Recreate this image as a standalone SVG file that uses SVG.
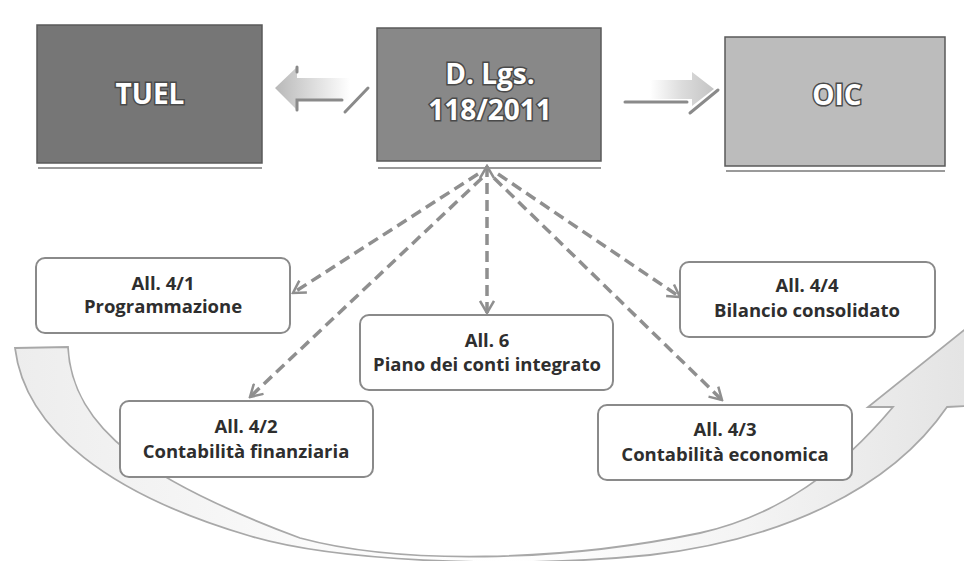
<svg xmlns="http://www.w3.org/2000/svg" width="964" height="561" viewBox="0 0 964 561">
<defs>
<style>
.bigbox{stroke:#5a5a5a;stroke-width:1.5}
.shadow{stroke:#9a9a9a;stroke-width:2;fill:none}
.big{font-family:"Open Sans","Noto Sans",sans-serif;font-weight:bold;font-size:28px;fill:#ffffff;stroke:#4a4a4a;stroke-width:3;paint-order:stroke;text-anchor:middle}
.box{fill:#ffffff;stroke:#8a8a8a;stroke-width:2}
.lbl{font-family:"Open Sans","Noto Sans",sans-serif;font-weight:bold;font-size:18.5px;fill:#2e2e2e;text-anchor:middle}
.dash{stroke:#8f8f8f;stroke-width:3.5;stroke-dasharray:11 6;fill:none}
.frag{stroke:#8a8a8a;stroke-width:3;fill:none;stroke-linecap:round}
</style>
<marker id="ah" viewBox="0 0 16 16" refX="14" refY="8" markerWidth="16" markerHeight="16" markerUnits="userSpaceOnUse" orient="auto-start-reverse">
<path d="M2,1 L14,8 L2,15" fill="none" stroke="#8f8f8f" stroke-width="2.5"/>
</marker>
<linearGradient id="gl" x1="0" y1="0" x2="1" y2="0">
<stop offset="0" stop-color="#b8b8b8"/>
<stop offset="0.5" stop-color="#dcdcdc"/>
<stop offset="1" stop-color="#ffffff"/>
</linearGradient>
<linearGradient id="gr" x1="0" y1="0" x2="1" y2="0">
<stop offset="0" stop-color="#ffffff"/>
<stop offset="0.5" stop-color="#dcdcdc"/>
<stop offset="1" stop-color="#c4c4c4"/>
</linearGradient>
<linearGradient id="gc" x1="0" y1="0" x2="1" y2="0">
<stop offset="0" stop-color="#ededed"/>
<stop offset="0.3" stop-color="#fafafa"/>
<stop offset="0.5" stop-color="#ffffff"/>
<stop offset="0.75" stop-color="#f4f4f4"/>
<stop offset="1" stop-color="#e2e2e2"/>
</linearGradient>
</defs>

<g id="curved-arrow">
<path d="M15 348 L68 347 C72 430 150 482 300 538 C400 565 560 562 700 533 C780 515 840 470 893 407 L868 407 L978 319 L990 405 L947 407 C890 490 780 540 650 555 C500 570 330 560 250 536 C110 495 25 430 15 348 Z" fill="url(#gc)" stroke="#a8a8a8" stroke-width="1.8"/>
</g>

<g id="arrow-left">
<path d="M275 88 L297 67 L297 78 L350 78 L350 100 L297 100 L297 110 Z" fill="url(#gl)"/>
<path class="frag" d="M297 67 L297 72 M297 110 L297 100 L342 100 M345 112 L368 88"/>
</g>
<g id="arrow-right">
<path d="M650 80 L692 80 L692 72 L714 89 L692 106 L692 99 L650 99 Z" fill="url(#gr)"/>
<path class="frag" d="M625 102 L687 102 M690 113 L718 90"/>
</g>

<g id="tuel">
<line class="shadow" x1="38" y1="168" x2="262" y2="168"/>
<rect class="bigbox" x="37" y="25" width="225" height="138" fill="#767676"/>
<text class="big" x="150" y="104">TUEL</text>
</g>
<g id="dlgs">
<line class="shadow" x1="378" y1="168" x2="601" y2="168"/>
<rect class="bigbox" x="377" y="28" width="224" height="133" fill="#888888"/>
<text class="big" x="490" y="84">D. Lgs.</text>
<text class="big" x="490" y="120">118/2011</text>
</g>
<g id="oic">
<line class="shadow" x1="726" y1="171" x2="945" y2="171"/>
<rect class="bigbox" x="725" y="37" width="220" height="129" fill="#bcbcbc" stroke="#8a8a8a"/>
<text class="big" x="837" y="105">OIC</text>
</g>

<g id="connectors">
<line class="dash" x1="478" y1="174" x2="293" y2="293" marker-end="url(#ah)"/>
<line class="dash" x1="482" y1="178" x2="250" y2="397" marker-end="url(#ah)"/>
<line class="dash" x1="487" y1="166" x2="487" y2="313" marker-start="url(#ah)" marker-end="url(#ah)"/>
<line class="dash" x1="498" y1="174" x2="680" y2="297" marker-end="url(#ah)"/>
<line class="dash" x1="494" y1="178" x2="722" y2="400" marker-end="url(#ah)"/>
</g>

<g id="all41">
<rect class="box" x="36" y="258" width="254" height="75" rx="9"/>
<text class="lbl" x="163" y="290">All. 4/1</text>
<text class="lbl" x="163" y="313">Programmazione</text>
</g>
<g id="all42">
<rect class="box" x="120" y="401" width="253" height="76" rx="9"/>
<text class="lbl" x="246" y="433">All. 4/2</text>
<text class="lbl" x="246" y="458">Contabilità finanziaria</text>
</g>
<g id="all6">
<rect class="box" x="360" y="315" width="253" height="75" rx="9"/>
<text class="lbl" x="487" y="347">All. 6</text>
<text class="lbl" x="487" y="371">Piano dei conti integrato</text>
</g>
<g id="all44">
<rect class="box" x="680" y="262" width="255" height="75" rx="9"/>
<text class="lbl" x="807" y="292">All. 4/4</text>
<text class="lbl" x="807" y="317">Bilancio consolidato</text>
</g>
<g id="all43">
<rect class="box" x="598" y="405" width="254" height="75" rx="9"/>
<text class="lbl" x="725" y="436">All. 4/3</text>
<text class="lbl" x="725" y="461">Contabilità economica</text>
</g>
</svg>
